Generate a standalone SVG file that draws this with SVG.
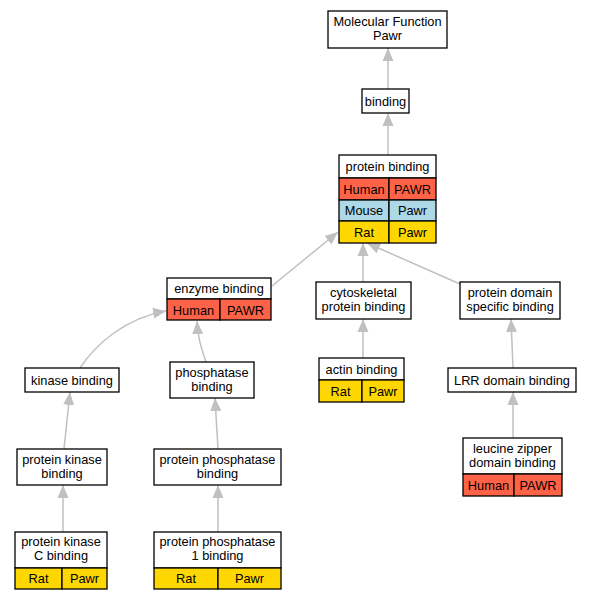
<svg xmlns="http://www.w3.org/2000/svg" width="591" height="600" viewBox="0 0 591 600">
<style>
text{font-family:"Liberation Sans",Arial,sans-serif;font-size:12.8px;text-anchor:middle;fill:#000}
.b{fill:#fff;stroke:#000;stroke-width:1.3}
.r{fill:#ff6347;stroke:#000;stroke-width:1.3}
.m{fill:#add8e6;stroke:#000;stroke-width:1.3}
.y{fill:#ffd700;stroke:#000;stroke-width:1.3}
.e{fill:none;stroke:#c0c0c0;stroke-width:1.5}
</style>
<defs>
<marker id="a" markerUnits="userSpaceOnUse" markerWidth="14" markerHeight="12" refX="13" refY="5.5" orient="auto" viewBox="0 0 14 11">
<path d="M0,0 L13,5.5 L0,11 z" fill="#c0c0c0"/>
</marker>
</defs>
<g id="edges">
<path class="e" marker-end="url(#a)" d="M388,89 L388,48"/>
<path class="e" marker-end="url(#a)" d="M388,155 L388,113"/>
<path class="e" marker-end="url(#a)" d="M272,286 L338,232"/>
<path class="e" marker-end="url(#a)" d="M363,282 L363,243"/>
<path class="e" marker-end="url(#a)" d="M460,284 L367,243"/>
<path class="e" marker-end="url(#a)" d="M80,368 C95,345 125,318 166,311"/>
<path class="e" marker-end="url(#a)" d="M206,362 C202,350 198,340 197,321"/>
<path class="e" marker-end="url(#a)" d="M64,449 L70,392"/>
<path class="e" marker-end="url(#a)" d="M218,449 L215,398"/>
<path class="e" marker-end="url(#a)" d="M63,532 L63,485"/>
<path class="e" marker-end="url(#a)" d="M218,532 L218,485"/>
<path class="e" marker-end="url(#a)" d="M363,358 L363,319"/>
<path class="e" marker-end="url(#a)" d="M513,368 L511,319"/>
<path class="e" marker-end="url(#a)" d="M513,438 L513,392"/>
</g>
<g id="mf">
<rect class="b" x="328" y="11" width="119" height="37"/>
<text x="387.5" y="26">Molecular Function</text>
<text x="387.5" y="40">Pawr</text>
</g>
<g id="binding">
<rect class="b" x="362" y="89" width="47" height="24"/>
<text x="385.5" y="105.5">binding</text>
</g>
<g id="protein_binding">
<rect class="b" x="339" y="155" width="97" height="23"/>
<text x="387.5" y="171">protein binding</text>
<rect class="r" x="339" y="178" width="50" height="22"/>
<rect class="r" x="389" y="178" width="47" height="22"/>
<text x="364" y="193.5">Human</text>
<text x="412.5" y="193.5">PAWR</text>
<rect class="m" x="339" y="200" width="50" height="21"/>
<rect class="m" x="389" y="200" width="47" height="21"/>
<text x="364" y="215">Mouse</text>
<text x="412.5" y="215">Pawr</text>
<rect class="y" x="339" y="221" width="50" height="22"/>
<rect class="y" x="389" y="221" width="47" height="22"/>
<text x="364" y="236.5">Rat</text>
<text x="412.5" y="236.5">Pawr</text>
</g>
<g id="enzyme_binding">
<rect class="b" x="167" y="278" width="104" height="21"/>
<text x="219" y="293">enzyme binding</text>
<rect class="r" x="167" y="299" width="53" height="21"/>
<rect class="r" x="220" y="299" width="51" height="21"/>
<text x="193.5" y="314.5">Human</text>
<text x="245.5" y="314.5">PAWR</text>
</g>
<g id="cytoskeletal">
<rect class="b" x="316" y="282" width="95" height="37"/>
<text x="363.5" y="297">cytoskeletal</text>
<text x="363.5" y="311">protein binding</text>
</g>
<g id="domain_specific">
<rect class="b" x="460" y="282" width="100" height="37"/>
<text x="510" y="297">protein domain</text>
<text x="510" y="311">specific binding</text>
</g>
<g id="kinase_binding">
<rect class="b" x="25" y="368" width="94" height="24"/>
<text x="72" y="384.5">kinase binding</text>
</g>
<g id="phosphatase_binding">
<rect class="b" x="170" y="362" width="84" height="36"/>
<text x="212" y="377">phosphatase</text>
<text x="212" y="391">binding</text>
</g>
<g id="actin_binding">
<rect class="b" x="319" y="358" width="85" height="22"/>
<text x="361.5" y="373.5">actin binding</text>
<rect class="y" x="319" y="380" width="43" height="22"/>
<rect class="y" x="362" y="380" width="42" height="22"/>
<text x="340.5" y="395.5">Rat</text>
<text x="383" y="395.5">Pawr</text>
</g>
<g id="lrr">
<rect class="b" x="448" y="368" width="128" height="24"/>
<text x="512" y="384.5">LRR domain binding</text>
</g>
<g id="leucine_zipper">
<rect class="b" x="463" y="438" width="99" height="36"/>
<text x="512.5" y="453">leucine zipper</text>
<text x="512.5" y="467">domain binding</text>
<rect class="r" x="463" y="474" width="51" height="22"/>
<rect class="r" x="514" y="474" width="48" height="22"/>
<text x="488.5" y="489.5">Human</text>
<text x="538" y="489.5">PAWR</text>
</g>
<g id="protein_kinase_binding">
<rect class="b" x="17" y="449" width="90" height="36"/>
<text x="62" y="464">protein kinase</text>
<text x="62" y="478">binding</text>
</g>
<g id="protein_phosphatase_binding">
<rect class="b" x="154" y="449" width="127" height="36"/>
<text x="217.5" y="464">protein phosphatase</text>
<text x="217.5" y="478">binding</text>
</g>
<g id="pkc_binding">
<rect class="b" x="15" y="532" width="92" height="36"/>
<text x="61" y="546">protein kinase</text>
<text x="61" y="560">C binding</text>
<rect class="y" x="15" y="568" width="47" height="21"/>
<rect class="y" x="62" y="568" width="45" height="21"/>
<text x="38.5" y="582.5">Rat</text>
<text x="84.5" y="582.5">Pawr</text>
</g>
<g id="pp1_binding">
<rect class="b" x="154" y="532" width="127" height="36"/>
<text x="217.5" y="546">protein phosphatase</text>
<text x="217.5" y="560">1 binding</text>
<rect class="y" x="154" y="568" width="64" height="21"/>
<rect class="y" x="218" y="568" width="63" height="21"/>
<text x="186" y="582.5">Rat</text>
<text x="249.5" y="582.5">Pawr</text>
</g>
</svg>
